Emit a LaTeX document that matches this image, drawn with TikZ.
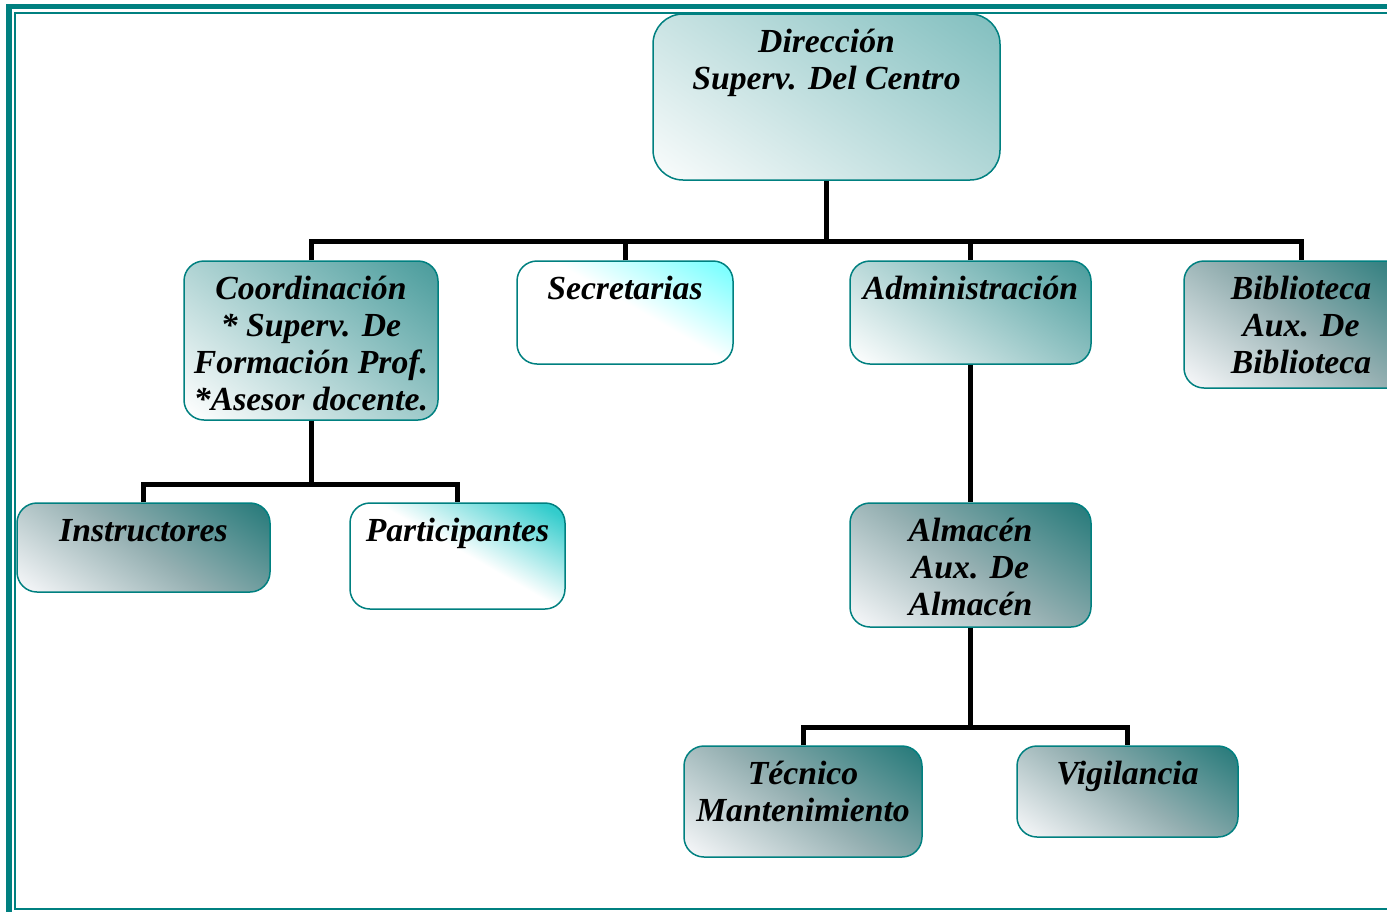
\documentclass[tikz,border=0pt]{standalone}
\usepackage{fontspec}
\setmainfont{Liberation Serif}
\definecolor{frame}{RGB}{0,128,128}
\definecolor{dirhi}{RGB}{128,190,190}
\definecolor{dirlo}{RGB}{246,250,250}
\definecolor{coohi}{RGB}{72,155,155}
\definecolor{coolo}{RGB}{250,252,252}
\definecolor{cyhi}{RGB}{128,255,255}
\definecolor{pahi}{RGB}{51,204,204}
\definecolor{dkhi}{RGB}{34,120,120}
\definecolor{dkmid}{RGB}{148,175,177}
\definecolor{dklo}{RGB}{242,244,246}
\pgfdeclarehorizontalshading{shdir}{100bp}{color(0bp)=(dirlo); color(18bp)=(dirlo); color(85bp)=(dirhi); color(100bp)=(dirhi)}
\pgfdeclarehorizontalshading{shcoo}{100bp}{color(0bp)=(coolo); color(18bp)=(coolo); color(85bp)=(coohi); color(100bp)=(coohi)}
\pgfdeclarehorizontalshading{shsec}{100bp}{color(0bp)=(white); color(53bp)=(white); color(80bp)=(cyhi); color(100bp)=(cyhi)}
\pgfdeclarehorizontalshading{shpar}{100bp}{color(0bp)=(white); color(52bp)=(white); color(80bp)=(pahi); color(100bp)=(pahi)}
\pgfdeclarehorizontalshading{shdark}{100bp}{color(0bp)=(dklo); color(18bp)=(dklo); color(50bp)=(dkmid); color(85bp)=(dkhi); color(100bp)=(dkhi)}
\newcommand\bxt[3]{\parbox[c][#2][t]{#1}{\centering\rule{0pt}{38.5pt}#3}}
\tikzset{
  box/.style={draw=frame, line width=1.5pt, rounded corners=20pt, inner sep=0pt, shade,
    font=\fontsize{33.7}{37}\selectfont\bfseries\itshape},
  conn/.style={line width=5pt, black, line join=miter}
}
\begin{document}
\begin{tikzpicture}[x=1pt,y=-1pt]
\useasboundingbox (0,0) rectangle (1387,911);
\clip (0,0) rectangle (1387,911);
\draw[frame, line width=5.5pt] (9,6.5) rectangle (1430,930);
\draw[frame, line width=2pt] (15.2,12.7) rectangle (1420,908.5);

\node[box, shading=shdir, shading angle=55, rounded corners=30pt] (dir) at (826.5,97) {\bxt{347pt}{166pt}{Dirección\\Superv. Del Centro}};
\node[box, shading=shcoo, shading angle=52] (coord) at (311,340.5) {\bxt{254pt}{159pt}{Coordinación\\{}* Superv. De\\Formación Prof.\\{}*Asesor docente.}};
\node[box, shading=shsec, shading angle=60] (secr) at (625,312.5) {\bxt{216pt}{103pt}{Secretarias}};
\node[box, shading=shcoo, shading angle=55] (admin) at (970.5,312.5) {\bxt{241pt}{103pt}{Administración}};
\node[box, shading=shdark, shading angle=55] (bibl) at (1301,324.5) {\bxt{234pt}{127pt}{Biblioteca\\Aux. De\\Biblioteca}};
\node[box, shading=shdark, shading angle=55] (instr) at (143.5,547.5) {\bxt{253pt}{89pt}{Instructores}};
\node[box, shading=shpar, shading angle=60] (part) at (457.5,556) {\bxt{215pt}{106pt}{Participantes}};
\node[box, shading=shdark, shading angle=56] (alm) at (970.5,565) {\bxt{241pt}{124pt}{Almacén\\Aux. De\\Almacén}};
\node[box, shading=shdark, shading angle=55] (tec) at (803,801.5) {\bxt{238pt}{111pt}{Técnico\\Mantenimiento}};
\node[box, shading=shdark, shading angle=55] (vig) at (1127.5,791.5) {\bxt{221pt}{91pt}{Vigilancia}};

\coordinate (busA) at (826.5,241);
\coordinate (busB) at (311,484);
\coordinate (busC) at (970.5,727);
\draw[conn] (dir.south) -- (busA);
\draw[conn] (coord.north) -- (coord.north |- busA) -- (bibl.north |- busA) -- (bibl.north);
\draw[conn] (secr.north) -- (secr.north |- busA);
\draw[conn] (admin.north) -- (admin.north |- busA);
\draw[conn] (coord.south) -- (busB);
\draw[conn] (instr.north) -- (instr.north |- busB) -- (part.north |- busB) -- (part.north);
\draw[conn] (admin.south) -- (alm.north);
\draw[conn] (alm.south) -- (busC);
\draw[conn] (tec.north) -- (tec.north |- busC) -- (vig.north |- busC) -- (vig.north);
\end{tikzpicture}
\end{document}
